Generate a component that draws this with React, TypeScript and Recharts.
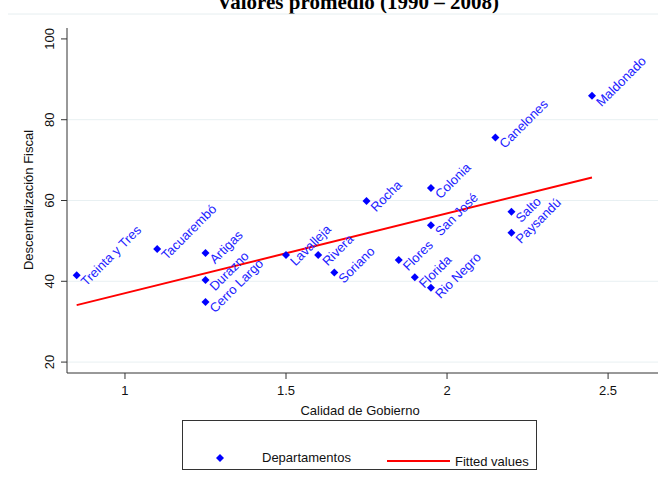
import React from 'react';
import { ScatterChart, Scatter, XAxis, YAxis, ReferenceLine } from 'recharts';

// Departamentos: calidad de gobierno vs descentralizacion fiscal
const departamentos = [
  'Treinta y Tres', 'Tacuarembó', 'Artigas', 'Durazno', 'Cerro Largo', 'Lavalleja',
  'Rivera', 'Soriano', 'Rocha', 'Flores', 'Florida', 'Rio Negro', 'Colonia',
  'San José', 'Canelones', 'Salto', 'Paysandú', 'Maldonado',
];
const calidad = [
  0.85, 1.1, 1.25, 1.25, 1.25, 1.5,
  1.6, 1.65, 1.75, 1.85, 1.9, 1.95, 1.95,
  1.95, 2.15, 2.2, 2.2, 2.45,
];
const descentralizacion = [
  41.5, 48.0, 47.0, 40.3, 34.9, 46.5,
  46.5, 42.2, 59.9, 45.3, 41.0, 38.4, 63.1,
  53.9, 75.6, 57.2, 52.0, 85.9,
];

// fitted values (linear fit), end points
const fitX = [0.85, 2.45];
const fitY = [34.1, 65.7];

const xTicks = [1, 1.5, 2, 2.5];
const yTicks = [20, 40, 60, 80, 100];
const gridValues = [20, 40, 60, 80];

const points = departamentos.map((name, i) => ({ name, x: calidad[i], y: descentralizacion[i] }));
const fitted = fitX.map((x, i) => ({ x, y: fitY[i] }));

const FONT = '"Liberation Sans", Arial, sans-serif';
const BLUE = '#0000ff';

function DeptShape(props: any) {
  const { cx, cy, payload } = props;
  const tx = cx + 9.5;
  const ty = cy + 11.5;
  return (
    <g>
      <path d={`M${cx},${cy - 4}L${cx + 4},${cy}L${cx},${cy + 4}L${cx - 4},${cy}Z`} fill={BLUE} />
      <text
        x={tx}
        y={ty}
        transform={`rotate(-45 ${tx} ${ty})`}
        fill="#2222ff"
        fontSize={13}
        fontFamily={FONT}
      >
        {payload.name}
      </text>
    </g>
  );
}

function YTick(props: any) {
  const { y, payload } = props;
  return (
    <text
      x={54}
      y={y}
      transform={`rotate(-90 54 ${y})`}
      textAnchor="middle"
      fontSize={13}
      fontFamily={FONT}
      fill="#111"
    >
      {payload.value}
    </text>
  );
}

function XTick(props: any) {
  const { x, payload } = props;
  return (
    <text x={x} y={395} textAnchor="middle" fontSize={13} fontFamily={FONT} fill="#111">
      {payload.value}
    </text>
  );
}

function YLabel() {
  return (
    <text
      x={33}
      y={200}
      transform="rotate(-90 33 200)"
      textAnchor="middle"
      fontSize={13}
      fontFamily={FONT}
      fill="#111"
    >
      Descentralización Fiscal
    </text>
  );
}

function XLabel() {
  return (
    <text x={360} y={415} textAnchor="middle" fontSize={13} fontFamily={FONT} fill="#111">
      Calidad de Gobierno
    </text>
  );
}

export default function App() {
  return (
    <div style={{ position: 'absolute', left: 0, top: 0, width: 658, height: 485, background: '#fff', overflow: 'hidden' }}>
      <svg width={658} height={30} style={{ position: 'absolute', left: 0, top: 0 }}>
        <text x={358} y={9} textAnchor="middle" fontSize={21} fontWeight="bold" fontFamily='"Liberation Serif", "Times New Roman", serif'>
          Valores promedio (1990 – 2008)
        </text>
        <line x1={8} x2={658} y1={14} y2={14} stroke="#e6eef0" strokeWidth={1} />
      </svg>
      <ScatterChart width={658} height={485} margin={{ top: 28, right: 0, left: 0, bottom: 82 }} style={{ position: 'absolute', left: 0, top: 0 }}>
        {gridValues.map((v) => (
          <ReferenceLine key={v} y={v} stroke="#e8f0f2" strokeWidth={1} />
        ))}
        <XAxis
          type="number"
          dataKey="x"
          domain={[0.82, 2.655]}
          ticks={xTicks}
          allowDataOverflow
          height={30}
          tickSize={6}
          stroke="#333"
          tick={<XTick />}
          label={<XLabel />}
        />
        <YAxis
          type="number"
          dataKey="y"
          domain={[17.3, 102.7]}
          ticks={yTicks}
          allowDataOverflow
          width={67}
          tickSize={6}
          stroke="#333"
          tick={<YTick />}
          label={<YLabel />}
        />
        <Scatter
          data={fitted}
          line={{ stroke: '#ff0000', strokeWidth: 2 }}
          shape={() => <g />}
          isAnimationActive={false}
        />
        <Scatter data={points} shape={<DeptShape />} isAnimationActive={false} />
      </ScatterChart>
      <div style={{ position: 'absolute', left: 182, top: 420, width: 355, height: 50, border: '1px solid #333', boxSizing: 'border-box' }}>
        <svg width={355} height={50} style={{ position: 'absolute', left: -1, top: -1 }}>
          <path d="M38,34L42,38L38,42L34,38Z" fill={BLUE} />
          <text x={80} y={42} fontSize={13} fontFamily={FONT} fill="#111">Departamentos</text>
          <line x1={205} x2={268} y1={41} y2={41} stroke="#ff0000" strokeWidth={2} />
          <text x={273} y={46} fontSize={13} fontFamily={FONT} fill="#111">Fitted values</text>
        </svg>
      </div>
    </div>
  );
}
